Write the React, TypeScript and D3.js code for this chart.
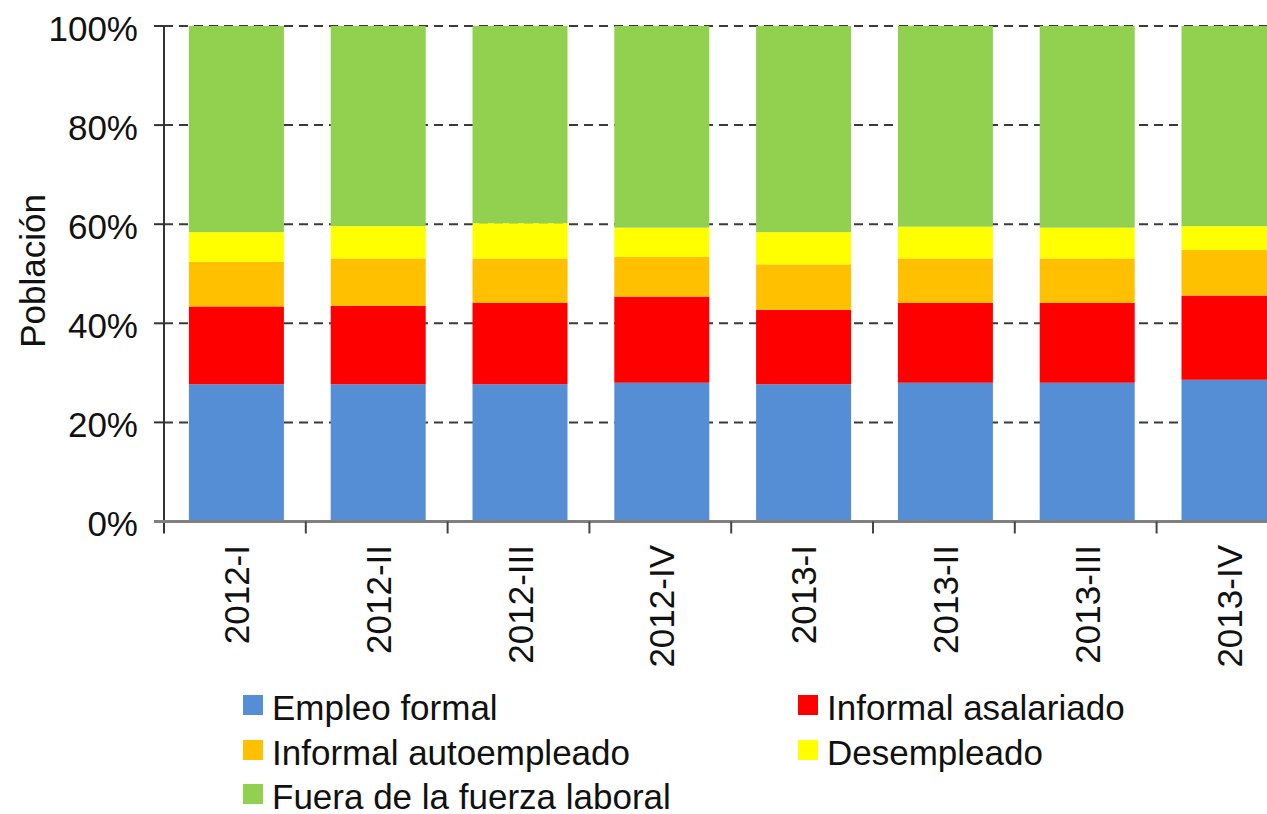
import { useEffect, useRef } from 'react';
import { scaleBand, scaleLinear, select, stack } from 'd3';

const categories = ['2012-I', '2012-II', '2012-III', '2012-IV', '2013-I', '2013-II', '2013-III', '2013-IV'];
const empleoFormal = [27.7, 27.7, 27.7, 28.0, 27.7, 28.0, 28.0, 28.6];
const informalAsalariado = [15.7, 15.8, 16.4, 17.4, 15.0, 16.1, 16.1, 17.0];
const informalAutoempleado = [9.0, 9.6, 9.0, 8.0, 9.2, 9.0, 9.0, 9.2];
const desempleado = [6.0, 6.5, 7.1, 5.9, 6.5, 6.4, 6.2, 4.8];
const fueraFuerza = [41.6, 40.4, 39.8, 40.7, 41.6, 40.5, 40.7, 40.4];
const yTicks = [0, 20, 40, 60, 80, 100];

const seriesNames = [
  'Empleo formal',
  'Informal asalariado',
  'Informal autoempleado',
  'Desempleado',
  'Fuera de la fuerza laboral',
];
const seriesValues = [empleoFormal, informalAsalariado, informalAutoempleado, desempleado, fueraFuerza];
const colors = ['#558ed5', '#ff0000', '#ffc000', '#ffff00', '#92d050'];

const FONT = '"Liberation Sans", Arial, sans-serif';

export default function App() {
  const svgRef = useRef<SVGSVGElement>(null);

  useEffect(() => {
    const width = 1267;
    const height = 814;
    const left = 164;
    const step = 141.8;
    const top = 26;
    const bottom = 521.5;

    const svg = select(svgRef.current);
    svg.selectAll('*').remove();
    svg.attr('width', width).attr('height', height);

    const rows = categories.map((c, i) => {
      const row: Record<string, number | string> = { name: c };
      seriesNames.forEach((s, j) => (row[s] = seriesValues[j][i]));
      return row;
    });
    const stacked = stack<any>().keys(seriesNames)(rows);

    const x = scaleBand()
      .domain(categories)
      .range([left + 1.5, left + 1.5 + step * categories.length])
      .paddingInner(0.33)
      .paddingOuter(0.165);

    const y = scaleLinear().domain([0, 100]).range([bottom, top]);

    // grid lines
    svg
      .selectAll('line.grid')
      .data(yTicks.filter((t) => t > 0))
      .enter()
      .append('line')
      .attr('class', 'grid')
      .attr('x1', left)
      .attr('x2', width)
      .attr('y1', (d) => y(d))
      .attr('y2', (d) => y(d))
      .attr('stroke', '#3a3a3a')
      .attr('stroke-width', 2)
      .attr('stroke-dasharray', '9,6');

    // bars
    const layer = svg
      .selectAll('g.layer')
      .data(stacked)
      .enter()
      .append('g')
      .attr('class', 'layer')
      .attr('fill', (_d, i) => colors[i]);

    layer
      .selectAll('rect')
      .data((d) => d)
      .enter()
      .append('rect')
      .attr('x', (d: any) => x(d.data.name)!)
      .attr('width', x.bandwidth())
      .attr('y', (d: any) => y(d[1]))
      .attr('height', (d: any) => y(d[0]) - y(d[1]));

    // y axis
    svg
      .append('line')
      .attr('x1', left)
      .attr('x2', left)
      .attr('y1', top)
      .attr('y2', bottom + 12)
      .attr('stroke', '#333')
      .attr('stroke-width', 2);

    svg
      .selectAll('line.ytick')
      .data(yTicks)
      .enter()
      .append('line')
      .attr('class', 'ytick')
      .attr('x1', left - 10)
      .attr('x2', left)
      .attr('y1', (d) => y(d))
      .attr('y2', (d) => y(d))
      .attr('stroke', '#333')
      .attr('stroke-width', 2);

    svg
      .selectAll('text.ylab')
      .data(yTicks)
      .enter()
      .append('text')
      .attr('class', 'ylab')
      .attr('x', 138)
      .attr('y', (d) => y(d) + 2)
      .attr('text-anchor', 'end')
      .attr('dominant-baseline', 'central')
      .attr('font-family', FONT)
      .attr('font-size', 35)
      .attr('fill', '#111')
      .text((d) => `${d}%`);

    svg
      .append('text')
      .attr('transform', `translate(45, 271) rotate(-90)`)
      .attr('text-anchor', 'middle')
      .attr('font-family', FONT)
      .attr('font-size', 35)
      .attr('fill', '#111')
      .text('Población');

    // x axis
    svg
      .append('line')
      .attr('x1', left - 10)
      .attr('x2', width)
      .attr('y1', bottom)
      .attr('y2', bottom)
      .attr('stroke', '#808080')
      .attr('stroke-width', 3);

    svg
      .selectAll('line.xtick')
      .data(categories.map((_c, i) => i + 1))
      .enter()
      .append('line')
      .attr('class', 'xtick')
      .attr('x1', (d) => left + d * step)
      .attr('x2', (d) => left + d * step)
      .attr('y1', bottom)
      .attr('y2', bottom + 12)
      .attr('stroke', '#444')
      .attr('stroke-width', 2);

    svg
      .selectAll('text.xlab')
      .data(categories)
      .enter()
      .append('text')
      .attr('class', 'xlab')
      .attr('transform', (d) => `translate(${x(d)! + x.bandwidth() / 2}, 545) rotate(-90)`)
      .attr('text-anchor', 'end')
      .attr('dominant-baseline', 'central')
      .attr('font-family', FONT)
      .attr('font-size', 35)
      .attr('fill', '#111')
      .text((d) => d);

    // legend
    const legendPos = [
      [243, 705],
      [798, 705],
      [243, 750],
      [798, 750],
      [243, 794],
    ];
    const order = [0, 1, 2, 3, 4];
    const item = svg
      .selectAll('g.legend')
      .data(order)
      .enter()
      .append('g')
      .attr('class', 'legend')
      .attr('transform', (i) => `translate(${legendPos[i][0]}, ${legendPos[i][1]})`);

    item
      .append('rect')
      .attr('x', 0)
      .attr('y', -10)
      .attr('width', 20)
      .attr('height', 20)
      .attr('fill', (i) => colors[i]);

    item
      .append('text')
      .attr('x', 29)
      .attr('y', 2)
      .attr('dominant-baseline', 'central')
      .attr('font-family', FONT)
      .attr('font-size', 35)
      .attr('fill', '#111')
      .text((i) => seriesNames[i]);
  }, []);

  return (
    <div style={{ position: 'absolute', left: 0, top: 0 }}>
      <svg ref={svgRef} style={{ display: 'block' }}></svg>
    </div>
  );
}
